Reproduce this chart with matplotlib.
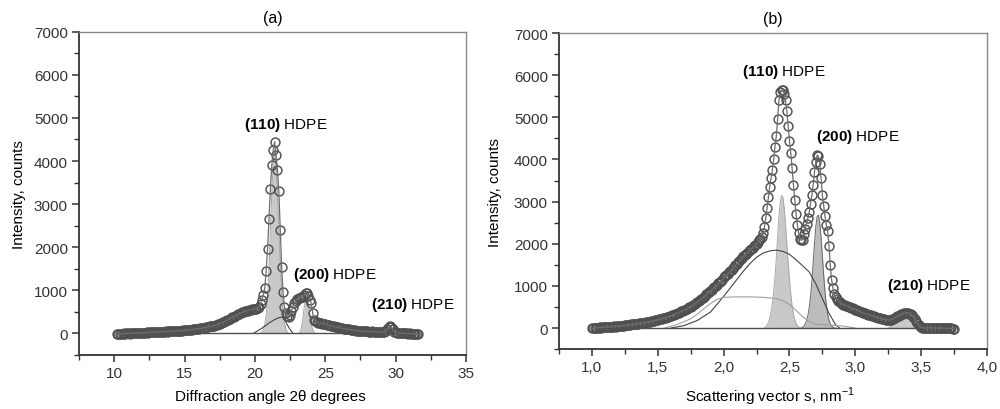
import numpy as np
import matplotlib.pyplot as plt
from matplotlib.ticker import MultipleLocator, FuncFormatter

plt.rcParams['font.family'] = ['Liberation Sans', 'DejaVu Sans']
plt.rcParams['font.size'] = 11
plt.rcParams['mathtext.fontset'] = 'custom'
plt.rcParams['mathtext.rm'] = 'Liberation Sans'
plt.rcParams['mathtext.bf'] = 'Liberation Sans:bold'

# Colors
dark = '#505050'
fitc = '#6e6e6e'
light_fill = '#c9c9c9'
mid_fill = '#bcbcbc'
axis_c = '#333333'

# ---------------- panel (a): XRD pattern, 2theta step 0.1 deg ----------------
tth_start, tth_step = 10.2, 0.1
counts_a = [
    -20, -15, -10, -5, -10, 0, -5, 5,
    0, -5, 5, 0, 10, 5, 0, 10, 15, 5,
    10, 15, 10, 20, 15, 25, 20, 25, 30, 20,
    30, 25, 35, 30, 40, 35, 40, 45, 40, 50,
    45, 50, 55, 50, 60, 55, 60, 65, 60, 70,
    70, 75, 70, 80, 85, 80, 90, 95, 100, 105,
    110, 115, 120, 125, 130, 140, 145, 150, 160, 165,
    170, 180, 190, 200, 215, 225, 240, 255, 270, 285,
    300, 315, 335, 350, 370, 390, 405, 420, 440, 455,
    470, 485, 500, 510, 520, 530, 540, 550, 555, 560,
    570, 575, 590, 610, 680, 780, 900, 1050, 1450, 1950,
    2650, 3350, 3900, 4250, 4450, 4150, 3800, 3300, 2400, 1550,
    950, 600, 480, 400, 380, 430, 520, 620, 700, 760,
    800, 820, 830, 840, 850, 880, 940, 930, 860, 780,
    700, 480, 320, 280, 260, 250, 240, 235, 225, 215,
    210, 200, 195, 185, 180, 170, 165, 155, 150, 140,
    130, 125, 120, 110, 105, 100, 95, 90, 85, 80,
    75, 70, 65, 60, 60, 55, 50, 50, 45, 45,
    45, 40, 40, 45, 40, 35, 40, 35, 30, 35,
    35, 30, 40, 60, 100, 140, 160, 140, 90, 40,
    20, 15, 10, 15, 5, 10, 0, 5, 0, -5,
    0, -5, -10, -5, -15, -10, -20,
]
tth = np.round(tth_start + tth_step * np.arange(len(counts_a)), 2)

# fitted crystalline peaks (a)
p110_a_x = [20.4, 20.5, 20.6, 20.7, 20.8, 20.9, 21.0, 21.1, 21.2, 21.3, 21.4,
            21.5, 21.6, 21.7, 21.8, 21.9, 22.0, 22.1, 22.2, 22.3, 22.4]
p110_a_y = [0, 30, 90, 200, 420, 850, 1500, 2400, 3250, 3950, 4250,
            4000, 3300, 2450, 1650, 980, 520, 240, 100, 30, 0]
p200_a_x = [23.1, 23.2, 23.3, 23.4, 23.5, 23.6, 23.7, 23.8, 23.9, 24.0, 24.1, 24.2, 24.3]
p200_a_y = [0, 30, 120, 330, 600, 780, 800, 680, 450, 220, 80, 20, 0]
p210_a_x = [29.1, 29.2, 29.3, 29.4, 29.5, 29.6, 29.7, 29.8, 29.9, 30.0, 30.1]
p210_a_y = [0, 10, 50, 100, 140, 150, 120, 70, 30, 5, 0]
# amorphous component (a)
am_a_x = [19.9, 20.2, 20.5, 20.8, 21.0, 21.3, 21.6, 21.9, 22.1, 22.3, 22.5, 22.7]
am_a_y = [0, 60, 120, 190, 240, 300, 350, 380, 320, 200, 90, 0]
base_a_x = [10.2, 31.6]

# ---------------- panel (b): scattering vector, step 0.01 nm-1 ----------------
s_start, s_step = 1.0, 0.01
counts_b = [
    0, -10, 5, 0, 10, 5, 15, 10, 20, 15,
    20, 25, 20, 30, 25, 35, 30, 40, 35, 45,
    50, 45, 55, 60, 55, 65, 70, 65, 75, 80,
    85, 90, 85, 95, 100, 105, 110, 115, 120, 125,
    130, 135, 140, 145, 150, 160, 165, 175, 180, 190,
    200, 205, 215, 220, 230, 240, 250, 260, 270, 280,
    290, 300, 315, 325, 340, 350, 365, 380, 395, 405,
    420, 440, 455, 475, 490, 510, 530, 550, 575, 595,
    620, 645, 670, 695, 720, 745, 770, 800, 825, 850,
    880, 910, 940, 970, 1000, 1030, 1060, 1090, 1120, 1150,
    1200, 1230, 1260, 1290, 1320, 1350, 1385, 1420, 1450, 1490,
    1530, 1560, 1600, 1630, 1660, 1700, 1730, 1760, 1790, 1820,
    1850, 1880, 1910, 1940, 1970, 2000, 2040, 2080, 2120, 2160,
    2250, 2400, 2600, 2850, 3100, 3350, 3550, 3750, 4000, 4300,
    4550, 4950, 5400, 5600, 5650, 5640, 5550, 5400, 5150, 4800,
    4450, 4150, 3800, 3400, 3050, 2700, 2450, 2250, 2120, 2080,
    2100, 2220, 2350, 2480, 2600, 2750, 2950, 3150, 3400, 3700,
    3950, 4100, 4080, 3900, 3550, 3150, 2900, 2650, 2450, 2300,
    1950, 1500, 1150, 950, 800, 740, 690, 650, 620, 590,
    570, 555, 540, 530, 515, 500, 490, 475, 465, 455,
    440, 430, 415, 400, 390, 375, 365, 350, 340, 330,
    320, 310, 300, 290, 280, 270, 260, 250, 240, 230,
    220, 215, 205, 200, 195, 190, 190, 195, 205, 220,
    240, 255, 275, 295, 310, 325, 340, 350, 360, 360,
    355, 345, 330, 300, 260, 220, 170, 120, 80, 40,
    20, 10, 0, 5, -5, 0, 10, 0, -5, 5,
    0, -5, 5, 0, -10, 0, 5, -5, 0, -10,
    -5, 0, -10, -5, -15, -20,
]
s_vec = np.round(s_start + s_step * np.arange(len(counts_b)), 3)

p110_b_x = [2.31, 2.32, 2.33, 2.34, 2.35, 2.36, 2.37, 2.38, 2.39, 2.40, 2.41, 2.42, 2.43, 2.44, 2.45,
            2.46, 2.47, 2.48, 2.49, 2.50, 2.51, 2.52, 2.53, 2.54, 2.55, 2.56, 2.57, 2.58, 2.59]
p110_b_y = [0, 30, 70, 130, 230, 380, 580, 850, 1200, 1650, 2150, 2650, 3000, 3150, 3100,
            2850, 2450, 2000, 1550, 1150, 800, 530, 340, 200, 110, 60, 30, 10, 0]
p200_b_x = [2.59, 2.60, 2.61, 2.62, 2.63, 2.64, 2.65, 2.66, 2.67, 2.68, 2.69, 2.70, 2.71, 2.72,
            2.73, 2.74, 2.75, 2.76, 2.77, 2.78, 2.79, 2.80, 2.81, 2.82, 2.83, 2.84, 2.85]
p200_b_y = [0, 20, 50, 100, 180, 300, 480, 750, 1100, 1550, 2000, 2400, 2650, 2680,
            2500, 2150, 1700, 1250, 850, 550, 330, 190, 100, 50, 20, 5, 0]
p210_b_x = [3.25, 3.28, 3.31, 3.34, 3.37, 3.40, 3.43, 3.46, 3.49, 3.52]
p210_b_y = [0, 60, 150, 240, 300, 300, 220, 110, 30, 0]
# amorphous components (b)
am1_b_x = [1.60, 1.70, 1.80, 1.90, 2.00, 2.05, 2.10, 2.15, 2.20, 2.25, 2.30, 2.35, 2.40,
           2.45, 2.50, 2.55, 2.60, 2.65, 2.70, 2.75, 2.80, 2.85, 2.88]
am1_b_y = [0, 60, 180, 380, 750, 950, 1150, 1350, 1530, 1680, 1780, 1830, 1850,
           1820, 1750, 1620, 1480, 1330, 1050, 700, 350, 80, 0]
am2_b_x = [1.55, 1.60, 1.65, 1.70, 1.75, 1.80, 1.85, 1.90, 1.95, 2.00, 2.10, 2.20, 2.30,
           2.40, 2.45, 2.50, 2.55, 2.60, 2.65, 2.70, 2.80, 2.90, 3.00]
am2_b_y = [0, 40, 90, 150, 220, 330, 460, 580, 680, 730, 740, 740, 730,
           700, 650, 560, 420, 270, 150, 90, 70, 50, 0]
base_b_x = [1.0, 3.75]

fig = plt.figure(figsize=(10, 4.1), dpi=100)
ax1 = fig.add_axes([0.079, 0.132, 0.387, 0.788])
ax2 = fig.add_axes([0.559, 0.146, 0.428, 0.771])


def style_axes(ax):
    for side in ['left', 'bottom']:
        ax.spines[side].set_color(axis_c)
        ax.spines[side].set_linewidth(1.3)
    for side in ['top', 'right']:
        ax.spines[side].set_color('#8a8a8a')
        ax.spines[side].set_linewidth(1.0)
    ax.tick_params(which='both', direction='out', colors=axis_c, labelcolor='#333333',
                   top=False, right=False, labelsize=11)
    ax.tick_params(which='major', length=5, width=1.1, pad=3)
    ax.tick_params(which='minor', length=3.5, width=1.0)


def draw_panel(ax, x, y, peaks, amorph, base_x):
    for i, (px, py) in enumerate(peaks):
        fc = mid_fill if i == 1 and ax is ax2 else light_fill
        ax.fill_between(px, py, 0, color=fc, lw=0, zorder=1)
        ec = '#666666' if i == 1 and ax is ax2 else '#a8a8a8'
        ax.plot(px, py, color=ec, lw=0.7, zorder=1.5)
    for ax_x, ax_y, c in amorph:
        ax.plot(ax_x, ax_y, color=c, lw=0.8, zorder=2)
    ax.plot(base_x, [0, 0], color=dark, lw=1.0, zorder=2)
    ax.plot(x, y, 'o', mfc='none', mec=dark, ms=6.4, mew=1.05, zorder=3)
    ax.plot(x, y, color=fitc, lw=0.9, zorder=4)


# panel (a)
draw_panel(ax1, tth, counts_a,
           [(p110_a_x, p110_a_y), (p200_a_x, p200_a_y), (p210_a_x, p210_a_y)],
           [(am_a_x, am_a_y, '#444444')], base_a_x)
ax1.set_xlim(7.5, 35)
ax1.set_ylim(-500, 7000)
ax1.xaxis.set_major_locator(MultipleLocator(5))
ax1.xaxis.set_minor_locator(MultipleLocator(2.5))
ax1.yaxis.set_major_locator(MultipleLocator(1000))
ax1.yaxis.set_minor_locator(MultipleLocator(500))
ax1.set_xticks([10, 15, 20, 25, 30, 35])
style_axes(ax1)
ax1.set_title('(a)', fontsize=11.5, pad=7)
ax1.set_xlabel('Diffraction angle 2\u03b8 degrees', fontsize=11, va='center')
ax1.set_ylabel('Intensity, counts', fontsize=11, va='center')
ax1.xaxis.set_label_coords(0.494, -0.127)
ax1.yaxis.set_label_coords(-0.155, 0.5)
ax1.text(19.25, 4870, r'$\mathbf{(110)}$ HDPE', fontsize=11, va='center', ha='left')
ax1.text(22.7, 1380, r'$\mathbf{(200)}$ HDPE', fontsize=11, va='center', ha='left')
ax1.text(28.27, 680, r'$\mathbf{(210)}$ HDPE', fontsize=11, va='center', ha='left')

# panel (b)
draw_panel(ax2, s_vec, counts_b,
           [(p110_b_x, p110_b_y), (p200_b_x, p200_b_y), (p210_b_x, p210_b_y)],
           [(am1_b_x, am1_b_y, '#444444'), (am2_b_x, am2_b_y, '#a0a0a0')], base_b_x)
ax2.set_xlim(0.75, 4.0)
ax2.set_ylim(-500, 7000)
ax2.set_xticks([1.0, 1.5, 2.0, 2.5, 3.0, 3.5, 4.0])
ax2.xaxis.set_minor_locator(MultipleLocator(0.25))
ax2.xaxis.set_major_formatter(FuncFormatter(lambda v, p: f'{v:.1f}'.replace('.', ',')))
ax2.yaxis.set_major_locator(MultipleLocator(1000))
ax2.yaxis.set_minor_locator(MultipleLocator(500))
style_axes(ax2)
ax2.set_title('(b)', fontsize=11.5, pad=7)
ax2.set_xlabel(r'Scattering vector s, nm$^{\mathrm{-1}}$', fontsize=11, va='center')
ax2.set_ylabel('Intensity, counts', fontsize=11, va='center')
ax2.xaxis.set_label_coords(0.493, -0.149)
ax2.yaxis.set_label_coords(-0.15, 0.5)
ax2.text(2.14, 6100, r'$\mathbf{(110)}$ HDPE', fontsize=11, va='center', ha='left')
ax2.text(2.705, 4560, r'$\mathbf{(200)}$ HDPE', fontsize=11, va='center', ha='left')
ax2.text(3.24, 1020, r'$\mathbf{(210)}$ HDPE', fontsize=11, va='center', ha='left')

fig.savefig('out.png', dpi=100)
